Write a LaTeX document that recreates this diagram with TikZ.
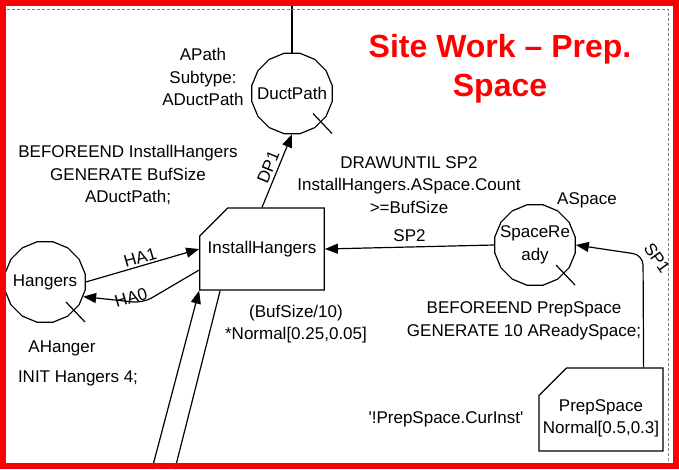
\documentclass[tikz,border=0pt]{standalone}
\usepackage{fontspec}
\setmainfont{Liberation Sans}
\usetikzlibrary{shapes.geometric, shapes.misc, arrows.meta, calc, positioning}
\tikzstyle{place} = [regular polygon, regular polygon sides=16, line width=1.2pt, minimum size=82pt, inner sep=0pt, align=center, draw=black]
\tikzstyle{activity} = [chamfered rectangle, chamfered rectangle corners=north west, chamfered rectangle xsep=21pt, chamfered rectangle ysep=20pt, line width=1.2pt, minimum width=122pt, minimum height=82pt, inner sep=0pt, align=center, draw=black]
\tikzstyle{arrow} = [line width=1.2pt, -{Triangle[length=13pt,width=10pt]}]
\tikzstyle{link} = [line width=1.2pt]
\tikzstyle{note} = [align=center, inner sep=0pt]
\tikzstyle{title} = [align=center, text=red, font=\fontsize{32}{39}\selectfont\bfseries]

\begin{document}
\begin{tikzpicture}[x=1pt, y=-1pt, font=\fontsize{17}{22.5}\selectfont]
		\useasboundingbox (0,0) rectangle (679,469);
		\node (DuctPath) [place] at (292,93.5) {\makebox[0pt]{DuctPath}};
		\node (Hangers) [place] at (45,282) {\makebox[0pt]{Hangers}};
		\node (SpaceReady) [place] at (535,245) {\makebox[0pt]{SpaceRe}\\\makebox[0pt]{ady}};
		\node (InstallHangers) [activity] at (262,249) {InstallHangers};
		\node (PrepSpace) [activity, minimum width=124pt, minimum height=83pt, chamfered rectangle ysep=21pt, text height=13pt, text depth=0pt, font=\fontsize{17}{18}\selectfont] at (601,409.5) {\raisebox{-17pt}{\makebox[80pt]{PrepSpace}}\\\raisebox{-17pt}{\makebox[80pt]{Normal[0.5,0.3]}}};
		\node (Title) [title] at (500,69) {Site Work – Prep.\\Space};
		\node (DuctPathType) [note] at (203,77) {APath\\Subtype:\\ADuctPath};
		\node (InstallHangersEnd) [note] at (128,175) {BEFOREEND InstallHangers\\GENERATE BufSize\\ADuctPath;};
		\node (DrawUntil) [note] at (409,185) {DRAWUNTIL SP2\\InstallHangers.ASpace.Count\\>=BufSize};
		\node (SpaceType) [note] at (587,200) {ASpace};
		\node (InstallHangersTime) [note] at (296,324) {(BufSize/10)\\*Normal[0.25,0.05]};
		\node (PrepSpaceEnd) [note] at (524,321) {BEFOREEND PrepSpace\\GENERATE 10 AReadySpace;};
		\node (PrepSpaceInst) [note] at (446,419) {\textquotesingle!PrepSpace.CurInst\textquotesingle};
		\node (HangerType) [note] at (62,348) {AHanger};
		\node (HangerInit) [note] at (78,378) {INIT Hangers 4;};
		\coordinate (DuctOut) at (292,0);
		\coordinate (HangersIn) at (152,469);
		\coordinate (HangersOut) at (175,469);
		\foreach \n in {DuctPath, Hangers, SpaceReady}
			\draw [link] ($(\n.center)+(21,20)$) -- ++(19,20);
		\draw [link] (DuctPath.north) -- (DuctOut);
		\draw [arrow] (InstallHangers.north) -- node[sloped, above, inner sep=3pt]{DP1} (DuctPath.south);
		\draw [arrow] (Hangers.east) -- node[sloped, above, inner sep=2pt]{HA1} (InstallHangers.west);
		\draw [arrow, rounded corners=10pt] ($(InstallHangers.west)+(0,21)$) -- (143,303) -- node[pos=0.2, yshift=4pt, rotate=16]{HA0} (Hangers.-21);
		\draw [arrow] (SpaceReady.west) -- node[above, inner sep=5pt]{SP2} (InstallHangers.east);
		\draw [arrow, rounded corners=10pt] ($(PrepSpace.north east)+(-20,0)$) -- (643,255) node[xshift=14pt, yshift=-3pt, rotate=-55]{SP1} -- (SpaceReady.east);
		\draw [arrow] (HangersIn) -- (InstallHangers.south west);
		\draw [link] ($(InstallHangers.south west)+(21,0)$) -- (HangersOut);
		\draw [gray, line width=0.8pt, dash pattern=on 3pt off 2pt] (5,9) rectangle (668,466);
		\draw [red, line width=6pt] (3,3) rectangle (676,466);
	\end{tikzpicture}
\end{document}
